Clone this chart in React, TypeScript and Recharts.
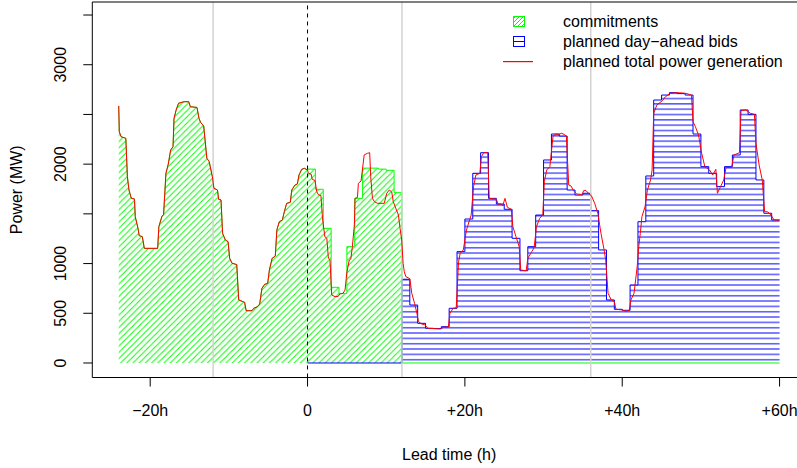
import { ComposedChart, Area, Line, XAxis, YAxis, ReferenceLine } from 'recharts';

// planned total power generation (red), hours relative to now
const totalHours = [
  -24, -23.93, -23.7, -23.1, -22.9, -22.7, -22.4, -22.0, -21.9, -21.55, -21.4, -21.0, -20.75, -19.05,
  -18.9, -18.5, -18.3, -18.0, -17.7, -17.4, -17.1, -16.97, -16.7, -16.4, -15.7, -15.1, -14.9, -14.05,
  -13.8, -13.6, -13.2, -12.8, -12.5, -12.1, -11.9, -11.45, -11.3, -11.0, -10.8, -10.45, -10.1, -9.9,
  -9.6, -9.0, -8.75, -8.3, -8.0, -7.8, -7.06, -6.85, -6.4, -6.08, -5.8, -5.45, -5.07, -4.85, -4.5,
  -4.1, -3.9, -3.6, -3.2, -2.95, -2.65, -2.2, -2.0, -1.6, -1.3, -1.08, -0.74, -0.4, 0,
  0.1, 0.45, 0.6, 0.95, 1.17, 1.4, 1.7, 1.9, 2.2, 2.45, 2.65, 2.85, 3.07, 3.5, 3.9, 4.1, 4.5, 4.77,
  4.98, 5.3, 5.5, 5.7, 5.95, 6.04, 6.35, 6.46, 6.8, 6.97, 7.2, 7.6, 7.9, 8.03, 8.25, 8.5, 8.9, 9.75,
  10.07, 10.4, 10.7, 10.9, 11.2, 11.55, 11.76, 11.97, 12.15, 12.3, 12.5, 13.0, 13.25, 13.6, 13.9,
  14.1, 14.5, 14.9, 15.3, 16.9, 17.3, 17.9, 18.1, 18.5, 18.9, 19.2, 19.4, 19.8, 20.2, 20.6, 20.8,
  21.1, 21.4, 21.9, 22.1, 22.4, 22.9, 23.1, 23.6, 24.0, 24.2, 24.6, 24.8, 25.1, 25.4, 25.9, 26.1,
  26.5, 26.9, 27.1, 27.8, 28.0, 28.5, 28.8, 29.1, 29.5, 29.9, 30.1, 30.4, 30.8, 31.2, 31.5, 31.9,
  32.3, 32.6, 32.9, 33.2, 33.5, 33.8, 34.2, 34.9, 35.1, 35.4, 35.7, 36.1, 36.5, 36.9, 37.3, 37.7,
  37.9, 38.2, 38.6, 39.0, 39.2, 39.9, 40.5, 40.9, 41.1, 41.5, 41.7, 41.9, 42.1, 42.3, 42.5, 42.9,
  43.2, 43.6, 43.8, 44.0, 44.4, 45.1, 45.5, 46.1, 46.9, 47.8, 48.2, 48.8, 49.0, 49.3, 49.7, 50.1,
  50.5, 51.1, 51.5, 51.9, 52.1, 52.5, 52.9, 53.2, 53.9, 54.2, 54.9, 55.1, 55.7, 56.3, 56.8, 57.0,
  57.4, 57.8, 58.1, 58.5, 58.9, 59.3, 60,
];
const totalValues = [
  2585, 2326, 2276, 2260, 1874, 1740, 1656, 1650, 1471, 1354, 1281, 1271, 1153, 1153,
  1371, 1478, 1490, 1908, 2001, 2142, 2176, 2461, 2545, 2612, 2628, 2628, 2578, 2570,
  2461, 2421, 2384, 2059, 2025, 1874, 1757, 1740, 1646, 1640, 1304, 1237, 1220, 1053,
  1003, 990, 634, 620, 610, 526, 526, 550, 565, 593, 751, 791, 800, 935, 1053,
  1075, 1338, 1420, 1438, 1522, 1606, 1615, 1740, 1790, 1800, 1891, 1948, 1958, 1941,
  1908, 1900, 1847, 1835, 1723, 1690, 1685, 1455, 1270, 1255, 1053, 1040, 684, 667, 670, 694, 700, 734,
  902, 1036, 1045, 1170, 1388, 1656, 1665, 1807, 1830, 1941, 2092, 2109, 2115, 1874, 1656, 1622, 1606, 1606,
  1707, 1740, 1720, 1622, 1560, 1488, 1354, 1237, 1000, 918, 868, 848, 701, 600, 500,
  416, 392, 385, 349, 342, 359, 362, 500, 550, 555, 1019, 1103, 1137, 1338, 1438, 1488,
  1774, 1891, 1908, 2075, 2115, 2115, 1656, 1650, 1650, 1599, 1599, 1579, 1656, 1566, 1546, 1371,
  1270, 1170, 935, 928, 1053, 1120, 1160, 1371, 1455, 1488, 1824, 1941, 1975, 2276, 2303, 2300,
  2310, 2300, 2280, 1790, 1780, 1734, 1700, 1695, 1734, 1734, 1707, 1680, 1606, 1506, 1304, 1137,
  1036, 701, 634, 617, 540, 535, 520, 530, 634, 701, 835, 969, 1170, 1304, 1471, 1572,
  1740, 1841, 1941, 2511, 2595, 2638, 2679, 2712, 2719, 2715, 2710, 2695, 2427, 2377, 2293, 2109,
  1975, 1941, 1891, 1948, 1707, 1774, 1841, 1966, 1966, 2092, 2115, 2538, 2545, 2511, 2501, 2210,
  1991, 1841, 1522, 1520, 1488, 1438, 1438,
];

// hourly commitments for hours 0..11 (past commitments follow the red line)
const commitHourly = [1950, 1747, 1354, 761, 700, 1170, 1656, 1960, 1960, 1950, 1938, 1713];

// hourly planned day-ahead bids for hours 12..59
const bidStart = 12;
const bidHourly = [
  842, 583, 399, 349, 346, 365, 550, 1120, 1448, 1908, 2115, 1656,
  1599, 1546, 1254, 928, 1170, 1488, 2042, 2303, 2283, 1740, 1690, 1707,
  1532, 1137, 634, 540, 530, 785, 1421, 1881, 2645, 2695, 2719, 2710,
  2695, 2303, 1975, 1908, 1774, 1975, 2092, 2545, 2501, 1841, 1506, 1438,
];

const xTicks = [-20, 0, 20, 40, 60];
const xTickLabels = ['\u221220h', '0', '+20h', '+40h', '+60h'];
const yTicks = [0, 500, 1000, 1500, 2000, 2500, 3000, 3500];
const yTickLabels = ['0', '500', '1000', '', '2000', '', '3000', ''];
const gridHours = [-12, 12, 36];

const totalData = totalHours.map((h, i) => ({ h, v: totalValues[i] }));
const commitData = [
  ...totalData.filter((p) => p.h <= 0),
  ...commitHourly.flatMap((v, i) => [{ h: i, v }, { h: i + 1, v }]),
  { h: 12, v: 0 },
  { h: 60, v: 0 },
];
const bidData = [
  { h: 0, v: 0 },
  { h: bidStart, v: 0 },
  ...bidHourly.flatMap((v, i) => [{ h: bidStart + i, v }, { h: bidStart + i + 1, v }]),
];

const FONT = '"Liberation Sans", Arial, Helvetica, sans-serif';
const Y_MIN = -146;
const Y_MAX = 3631;

function YTick(props: any) {
  const { y, payload } = props;
  const label = yTickLabels[yTicks.indexOf(payload.value)];
  if (!label) return null;
  return (
    <text
      x={61}
      y={y}
      transform={`rotate(-90, 61, ${y})`}
      textAnchor="middle"
      dominantBaseline="central"
      fontSize={16}
      fontFamily={FONT}
      fill="#000"
    >
      {label}
    </text>
  );
}

function LegendBox() {
  return (
    <svg width={797} height={468} style={{ position: 'absolute', left: 0, top: 0, pointerEvents: 'none' }}>
      <defs>
        <pattern id="legHatch" patternUnits="userSpaceOnUse" width={4} height={4}>
          <path d="M-1,1 l2,-2 M0,4 l4,-4 M3,5 l2,-2" stroke="#00ff00" strokeWidth={1} />
        </pattern>
      </defs>
      <rect x={513.5} y={16.5} width={11} height={10} fill="url(#legHatch)" stroke="#00ff00" />
      <rect x={513.5} y={36.5} width={11} height={10} fill="none" stroke="#0000ff" />
      <rect x={514} y={41} width={10} height={1} fill="#0000ff" />
      <rect x={503} y={61} width={30} height={1.2} fill="#ff0000" />
      <g fontFamily={FONT} fontSize={16} fill="#000">
        <text x={563} y={21.5} dominantBaseline="central">commitments</text>
        <text x={563} y={41.5} dominantBaseline="central">planned day{'\u2212'}ahead bids</text>
        <text x={563} y={61.5} dominantBaseline="central">planned total power generation</text>
      </g>
    </svg>
  );
}

export default function App() {
  return (
    <div style={{ position: 'absolute', left: 0, top: 0, width: 797, height: 468, overflow: 'hidden', background: '#fff' }}>
      <ComposedChart width={806} height={468} margin={{ top: 2, right: 0, bottom: 0, left: 0 }}>
        <defs>
          <pattern id="hatchGreen" patternUnits="userSpaceOnUse" width={6.2} height={6.2}>
            <path d="M-1,1 l2,-2 M0,6.2 l6.2,-6.2 M5.2,7.2 l2,-2" stroke="#00ff00" strokeWidth={1} />
          </pattern>
          <pattern id="hatchBlue" patternUnits="userSpaceOnUse" width={10} height={5.33}>
            <line x1={0} y1={2.6} x2={10} y2={2.6} stroke="#0000ff" strokeWidth={1} />
          </pattern>
        </defs>
        <XAxis
          type="number"
          dataKey="h"
          domain={[-27.36, 63.36]}
          ticks={xTicks}
          allowDataOverflow
          height={90.5}
          tickSize={9}
          tickMargin={18}
          tickFormatter={(v: number) => xTickLabels[xTicks.indexOf(v)]}
          tick={{ fill: '#000', fontSize: 16, fontFamily: FONT }}
          axisLine={{ stroke: '#000' }}
          tickLine={{ stroke: '#000' }}
          label={{ value: 'Lead time (h)', position: 'insideBottom', offset: 8, fill: '#000', fontSize: 16, fontFamily: FONT }}
        />
        <YAxis
          type="number"
          domain={[Y_MIN, Y_MAX]}
          ticks={yTicks}
          allowDataOverflow
          width={92.3}
          tickSize={9}
          tick={<YTick />}
          axisLine={{ stroke: '#000' }}
          tickLine={{ stroke: '#000' }}
          label={{ value: 'Power (MW)', angle: -90, position: 'insideLeft', offset: 16, fill: '#000', fontSize: 16, fontFamily: FONT, style: { textAnchor: 'middle' } }}
        />
        {gridHours.map((h) => (
          <ReferenceLine key={h} x={h} stroke="#d3d3d3" strokeWidth={1.5} />
        ))}
        <ReferenceLine x={0} stroke="#000" strokeDasharray="4 4" />
        <ReferenceLine y={Y_MAX} stroke="#000" />
        <Area
          data={commitData}
          dataKey="v"
          type="linear"
          baseValue={0}
          stroke="#00ff00"
          strokeWidth={1}
          fill="url(#hatchGreen)"
          fillOpacity={1}
          isAnimationActive={false}
          dot={false}
          activeDot={false}
        />
        <Area
          data={bidData}
          dataKey="v"
          type="linear"
          baseValue={0}
          stroke="#0000ff"
          strokeWidth={1}
          fill="url(#hatchBlue)"
          fillOpacity={1}
          isAnimationActive={false}
          dot={false}
          activeDot={false}
        />
        <Line
          data={totalData}
          dataKey="v"
          type="linear"
          stroke="#ff0000"
          strokeWidth={1}
          dot={false}
          activeDot={false}
          isAnimationActive={false}
        />
      </ComposedChart>
      <LegendBox />
    </div>
  );
}
